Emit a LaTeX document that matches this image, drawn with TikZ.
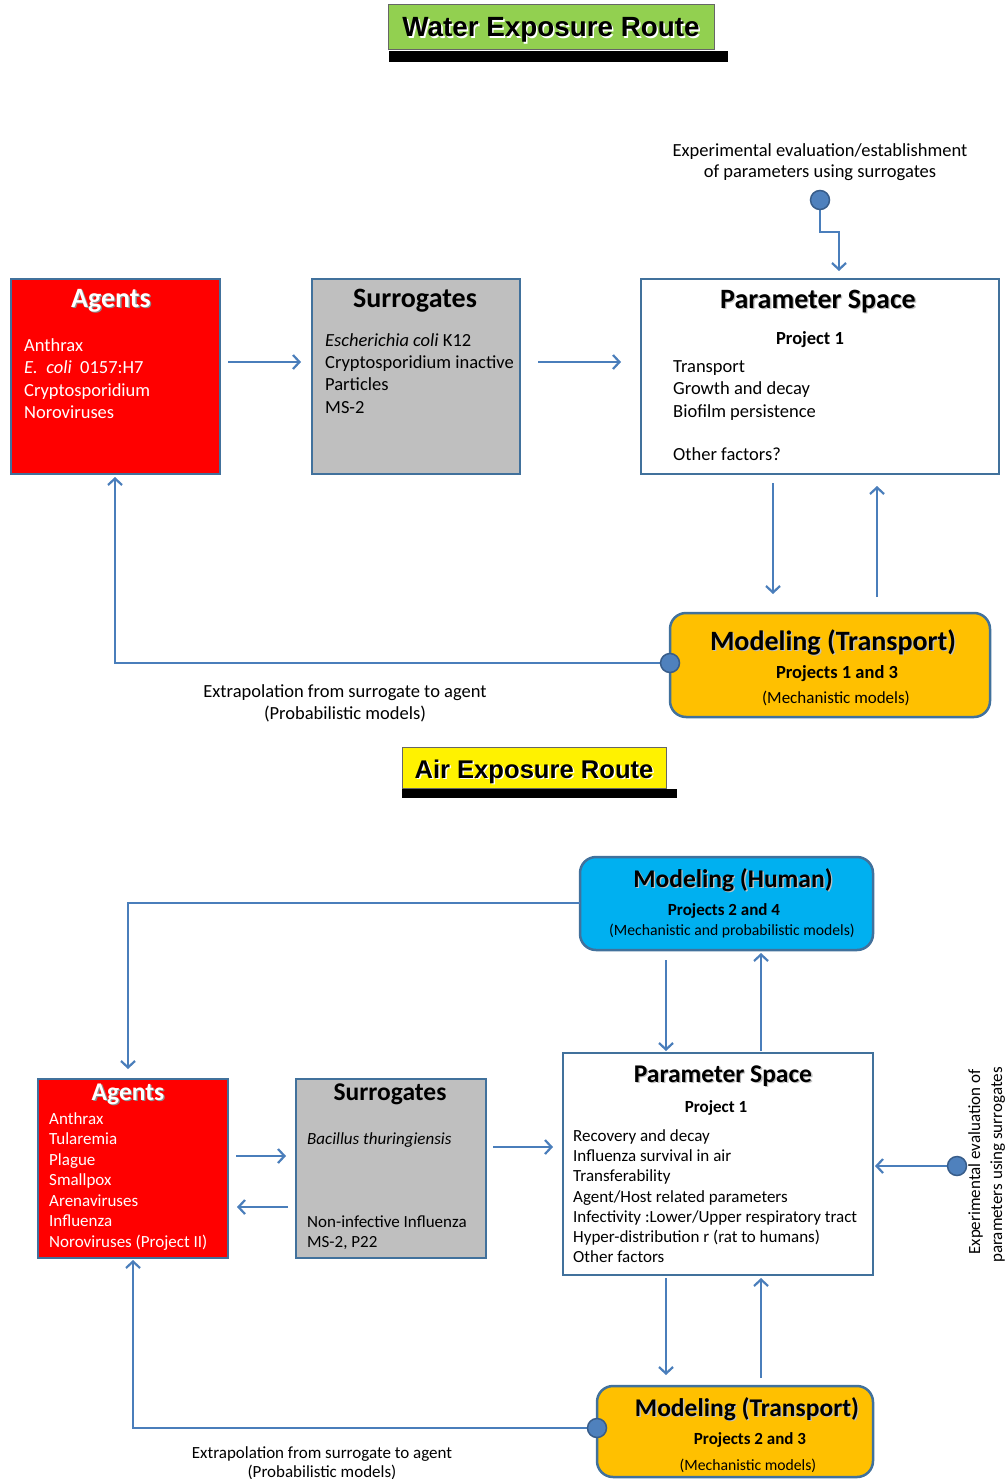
\documentclass[tikz,border=0pt]{standalone}
\usepackage{fontspec}
\setmainfont{Carlito}
\newfontfamily\arialf{Liberation Sans}
\usetikzlibrary{arrows.meta}
\definecolor{bordc}{HTML}{41719C}
\definecolor{linec}{HTML}{4A7EBB}
\definecolor{dotc}{HTML}{4F81BD}
\definecolor{dotb}{HTML}{385D8A}
\definecolor{orangec}{HTML}{FFC000}
\definecolor{bluec}{HTML}{00B0F0}
\definecolor{greenc}{HTML}{92D050}
\definecolor{grayc}{HTML}{BFBFBF}
\newcommand\shtext[3][1.3pt]{\leavevmode\rlap{\kern#1\raisebox{-#1}{\textcolor{#2}{#3}}}#3}
\tikzset{
  box/.style={draw=bordc, line width=2.5pt, anchor=north west, inner sep=0pt, outer sep=0pt},
  rbox/.style={box, rounded corners=16pt},
  tbox/.style={draw=black!60, line width=1pt, anchor=north west, inner sep=0pt, outer sep=0pt},
  arr/.style={draw=linec, line width=2.2pt, -{Straight Barb[length=6.5pt,width=14pt]}},
  dot/.style={circle, fill=dotc, draw=dotb, line width=1.5pt, minimum size=19pt, inner sep=0pt},
  txt/.style={inner sep=0pt, anchor=base west},
  ctxt/.style={inner sep=0pt, anchor=base},
  fW/.style={font=\fontsize{18.5}{22}\selectfont},
  fWb/.style={font=\fontsize{18.5}{22}\selectfont\bfseries},
  hW/.style={font=\fontsize{28}{32}\selectfont\bfseries},
  fA/.style={font=\fontsize{17}{20}\selectfont},
  fAb/.style={font=\fontsize{17}{20}\selectfont\bfseries},
  hA/.style={font=\fontsize{25.5}{30}\selectfont\bfseries},
  fS/.style={font=\fontsize{15.7}{19}\selectfont},
}
\begin{document}
\begin{tikzpicture}[x=1pt,y=-1pt]
\useasboundingbox (0,0) rectangle (1005,1479);

% ---------- titles ----------
\fill[black] (389,51) rectangle (728,62);
\node[tbox, fill=greenc, minimum width=326pt, minimum height=45pt] (tW) at (388,5) {};
\node[ctxt, font=\arialf\bfseries\fontsize{27.8}{30}\selectfont] (tWt) at (551,37) {\shtext[1.6pt]{white}{Water Exposure Route}};

\fill[black] (402,789) rectangle (677,798);
\node[tbox, fill=yellow, minimum width=264pt, minimum height=41pt] (tA) at (402,747) {};
\node[ctxt, font=\arialf\bfseries\fontsize{25.6}{28}\selectfont] (tAt) at (534,778) {\shtext[1.5pt]{white}{Air Exposure Route}};

% ---------- water boxes ----------
\node[box, fill=red, minimum width=209pt, minimum height=195pt] (agW) at (11,279) {};
\node[box, fill=grayc, minimum width=208pt, minimum height=195pt] (suW) at (312,279) {};
\node[box, fill=white, minimum width=358pt, minimum height=195pt] (psW) at (641,279) {};
\node[rbox, fill=orangec, minimum width=320pt, minimum height=104pt] (moW) at (670,613) {};

% ---------- air boxes ----------
\node[rbox, fill=bluec, minimum width=293pt, minimum height=93pt] (moH) at (580,857) {};
\node[box, fill=red, minimum width=190pt, minimum height=179pt] (agA) at (38,1079) {};
\node[box, fill=grayc, minimum width=190pt, minimum height=179pt] (suA) at (296,1079) {};
\node[box, fill=white, minimum width=310pt, minimum height=222pt] (psA) at (563,1053) {};
\node[rbox, fill=orangec, minimum width=276pt, minimum height=91pt] (moA) at (597,1386) {};

% ---------- connector anchors ----------
\coordinate (dWc) at (820,200);
\coordinate (dmWc) at (670,663);
\coordinate (dRc) at (957,1166);
\coordinate (dmAc) at (597,1428);

% ---------- water connectors ----------
\draw[arr, shorten <=8pt, shorten >=11pt] (agW.east |- 0,362) -- (suW.west |- 0,362);
\draw[arr, shorten <=18pt, shorten >=20pt] (suW.east |- 0,362) -- (psW.west |- 0,362);
\draw[arr, shorten <=9pt, shorten >=19pt] (psW.south -| 773,0) -- (moW.north -| 773,0);
\draw[arr, shorten <=16pt, shorten >=12pt] (moW.north -| 877,0) -- (psW.south -| 877,0);
\draw[arr, shorten >=8pt] (dWc) -- (820,232) -- (839,232) -- (psW.north -| 839,0);
\draw[arr, shorten >=3pt] (dmWc) -- (115,663) -- (agW.south -| 115,0);

% ---------- air connectors ----------
\draw[arr, shorten >=10pt] (moH.west |- 0,903) -- (128,903) -- (agA.north -| 128,0);
\draw[arr, shorten <=10pt, shorten >=2pt] (moH.south -| 666,0) -- (psA.north -| 666,0);
\draw[arr, shorten <=2pt, shorten >=3pt] (psA.north -| 761,0) -- (moH.south -| 761,0);
\draw[arr, shorten <=8pt, shorten >=10pt] (agA.east |- 0,1156) -- (suA.west |- 0,1156);
\draw[arr, shorten <=8pt, shorten >=9pt] (suA.west |- 0,1207) -- (agA.east |- 0,1207);
\draw[arr, shorten <=7pt, shorten >=10pt] (suA.east |- 0,1147) -- (psA.west |- 0,1147);
\draw[arr, shorten >=2pt] (dRc) -- (psA.east |- dRc);
\draw[arr, shorten <=3pt, shorten >=11pt] (psA.south -| 666,0) -- (moA.north -| 666,0);
\draw[arr, shorten <=8pt, shorten >=3pt] (moA.north -| 761,0) -- (psA.south -| 761,0);
\draw[arr, shorten >=2pt] (dmAc) -- (133,1428) -- (agA.south -| 133,0);

% ---------- dots ----------
\node[dot] (dW) at (dWc) {};
\node[dot] (dmW) at (dmWc) {};
\node[dot] (dR) at (dRc) {};
\node[dot] (dmA) at (dmAc) {};

% ---------- water texts ----------
\node[ctxt, hW, text=white] (agWh) at (111,307) {\shtext{black!45}{Agents}};
\foreach \t [count=\i] in {Anthrax, {\textit{E.}\ \ \textit{coli}\ \ 0157:H7}, Cryptosporidium, Noroviruses}
  \node[txt, fW, text=white] (agWt\i) at (24,{351+22.6*(\i-1)}) {\t};

\node[ctxt, hW] (suWh) at (415,307) {\shtext{black!25}{Surrogates}};
\foreach \t [count=\i] in {{\textit{Escherichia coli} K12}, Cryptosporidium inactive, Particles, MS-2}
  \node[txt, fW] (suWt\i) at (325,{346+22.4*(\i-1)}) {\t};

\node[ctxt, hW] (psWh) at (818,308) {\shtext{black!25}{Parameter Space}};
\node[ctxt, fWb] (psWp) at (810,344) {Project 1};
\foreach \t [count=\i] in {Transport, Growth and decay, Biofilm persistence}
  \node[txt, fW] (psWt\i) at (673,{372+22.5*(\i-1)}) {\t};
\node[txt, fW] (psWo) at (673,460) {Other factors?};

\node[ctxt, fW] (expW1) at (820,157) {Experimental evaluation/establishment};
\node[ctxt, fW] (expW2) at (820,178) {of parameters using surrogates};

\node[ctxt, hW] (moWh) at (833,650) {\shtext{black!25}{Modeling (Transport)}};
\node[ctxt, fWb] (moWp) at (837,678) {Projects 1 and 3};
\node[ctxt, font=\fontsize{17}{20}\selectfont] (moWm) at (836,703) {(Mechanistic models)};

\node[ctxt, fW] (exW1) at (345,697) {Extrapolation from surrogate to agent};
\node[ctxt, fW] (exW2) at (345,719) {(Probabilistic models)};

% ---------- air texts ----------
\node[ctxt, hA] (moHh) at (733,887) {\shtext{black!25}{Modeling (Human)}};
\node[ctxt, fAb] (moHp) at (724,915) {Projects 2 and 4};
\node[ctxt, fS] (moHm) at (732,935) {(Mechanistic and probabilistic models)};

\node[ctxt, hA, text=white] (agAh) at (128,1100) {\shtext{black!45}{Agents}};
\foreach \t [count=\i] in {Anthrax, Tularemia, Plague, Smallpox, Arenaviruses, Influenza, Noroviruses (Project II)}
  \node[txt, fA, text=white] (agAt\i) at (49,{1124+20.5*(\i-1)}) {\t};

\node[ctxt, hA] (suAh) at (390,1100) {\shtext{black!25}{Surrogates}};
\node[txt, fA] (suAt1) at (307,1144) {\textit{Bacillus thuringiensis}};
\node[txt, fA] (suAt2) at (307,1227) {Non-infective Influenza};
\node[txt, fA] (suAt3) at (307,1247) {MS-2, P22};

\node[ctxt, hA] (psAh) at (723,1082) {\shtext{black!25}{Parameter Space}};
\node[ctxt, fAb] (psAp) at (716,1112) {Project 1};
\foreach \t [count=\i] in {Recovery and decay, Influenza survival in air, Transferability, Agent/Host related parameters, Infectivity :Lower/Upper respiratory tract, Hyper-distribution r (rat to humans), Other factors}
  \node[txt, fA] (psAt\i) at (573,{1141+20.33*(\i-1)}) {\t};

\node[ctxt, fA, rotate=90] (rt1) at (980,1162) {Experimental evaluation of};
\node[ctxt, fA, rotate=90] (rt2) at (1002,1165) {parameters using surrogates};

\node[ctxt, hA] (moAh) at (747,1416) {\shtext{black!25}{Modeling (Transport)}};
\node[ctxt, fAb] (moAp) at (750,1444) {Projects 2 and 3};
\node[ctxt, fS] (moAm) at (748,1470) {(Mechanistic models)};

\node[ctxt, fA] (exA1) at (322,1458) {Extrapolation from surrogate to agent};
\node[ctxt, fA] (exA2) at (322,1477) {(Probabilistic models)};
\end{tikzpicture}
\end{document}
